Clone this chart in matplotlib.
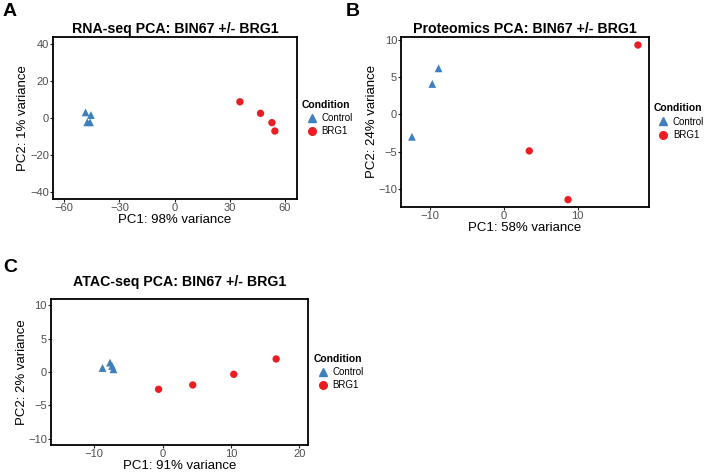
import matplotlib.pyplot as plt
from matplotlib.lines import Line2D

plt.rcParams['font.family'] = ['Liberation Sans', 'DejaVu Sans']

blue = '#3E80BD'
red = '#EB1C22'

# RNA-seq
rna_ctrl_x = [-48.4, -45.5, -47.5, -46.0]
rna_ctrl_y = [3.0, 1.6, -2.3, -2.3]
rna_brg_x = [35.5, 46.7, 52.9, 54.5]
rna_brg_y = [8.7, 2.5, -2.5, -7.0]

# Proteomics
prot_ctrl_x = [-12.4, -9.65, -8.8]
prot_ctrl_y = [-3.0, 4.1, 6.2]
prot_brg_x = [3.46, 8.7, 18.15]
prot_brg_y = [-4.9, -11.45, 9.33]

# ATAC-seq
atac_ctrl_x = [-8.8, -7.7, -7.4, -7.2]
atac_ctrl_y = [0.6, 1.4, 0.9, 0.4]
atac_brg_x = [-0.6, 4.4, 10.4, 16.6]
atac_brg_y = [-2.6, -1.95, -0.35, 1.95]


def pca_panel(ax, cx, cy, bx, by, title, xlab, ylab, xlim, ylim, xticks, yticks, tpad, ylx):
    ax.scatter(cx, cy, marker='^', s=32, color=blue, edgecolors='none', zorder=3)
    ax.scatter(bx, by, marker='o', s=28, color=red, edgecolors='none', zorder=3)
    ax.set_xlim(*xlim)
    ax.set_ylim(*ylim)
    ax.set_xticks(xticks)
    ax.set_yticks(yticks)
    ax.set_xticklabels([str(t).replace('-', '\u2212') for t in xticks])
    ax.set_yticklabels([str(t).replace('-', '\u2212') for t in yticks])
    ax.tick_params(length=2, width=0.8, colors='#222222', labelcolor='#4D4D4D',
                   labelsize=8, pad=1)
    for sp in ax.spines.values():
        sp.set_linewidth(1.3)
        sp.set_color('black')
    ax.set_title(title, fontsize=10.2, fontweight='bold', pad=tpad)
    ax.set_xlabel(xlab, fontsize=9.5, labelpad=0.5)
    ax.set_ylabel(ylab, fontsize=9.5)
    ax.yaxis.set_label_coords(ylx, 0.5)
    handles = [
        Line2D([], [], marker='^', linestyle='none', color=blue, markersize=5.5, label='Control'),
        Line2D([], [], marker='o', linestyle='none', color=red, markersize=5.5, label='BRG1'),
    ]
    leg = ax.legend(handles=handles, title='Condition', loc='center left',
                    bbox_to_anchor=(1.0, 0.5), frameon=False, fontsize=7,
                    title_fontproperties={'weight': 'bold', 'size': 7.5},
                    handletextpad=0.0, labelspacing=0.35, borderaxespad=0.1)
    leg._legend_box.align = 'left'


fig = plt.figure(figsize=(7.05, 4.73), dpi=100)

ax_a = fig.add_axes([0.0752, 0.5793, 0.346, 0.3425])
pca_panel(ax_a, rna_ctrl_x, rna_ctrl_y, rna_brg_x, rna_brg_y,
          'RNA-seq PCA: BIN67 +/- BRG1', 'PC1: 98% variance', 'PC2: 1% variance',
          (-66.1, 66.5), (-43.5, 43.5), [-60, -30, 0, 30, 60], [-40, -20, 0, 20, 40],
          3, -0.1)

ax_b = fig.add_axes([0.5692, 0.563, 0.3509, 0.3594])
pca_panel(ax_b, prot_ctrl_x, prot_ctrl_y, prot_brg_x, prot_brg_y,
          'Proteomics PCA: BIN67 +/- BRG1', 'PC1: 58% variance', 'PC2: 24% variance',
          (-13.84, 19.6), (-12.4, 10.45), [-10, 0, 10], [-10, -5, 0, 5, 10],
          3, -0.094)

ax_c = fig.add_axes([0.0723, 0.0586, 0.365, 0.31])
pca_panel(ax_c, atac_ctrl_x, atac_ctrl_y, atac_brg_x, atac_brg_y,
          'ATAC-seq PCA: BIN67 +/- BRG1', 'PC1: 91% variance', 'PC2: 2% variance',
          (-16.34, 21.3), (-11.0, 11.0), [-10, 0, 10, 20], [-10, -5, 0, 5, 10],
          9, -0.089)

fig.text(0.004, 0.975, 'A', fontsize=14, fontweight='bold', va='center', ha='left')
fig.text(0.490, 0.975, 'B', fontsize=14, fontweight='bold', va='center', ha='left')
fig.text(0.004, 0.435, 'C', fontsize=14, fontweight='bold', va='center', ha='left')

fig.savefig('out.png', dpi=100)
